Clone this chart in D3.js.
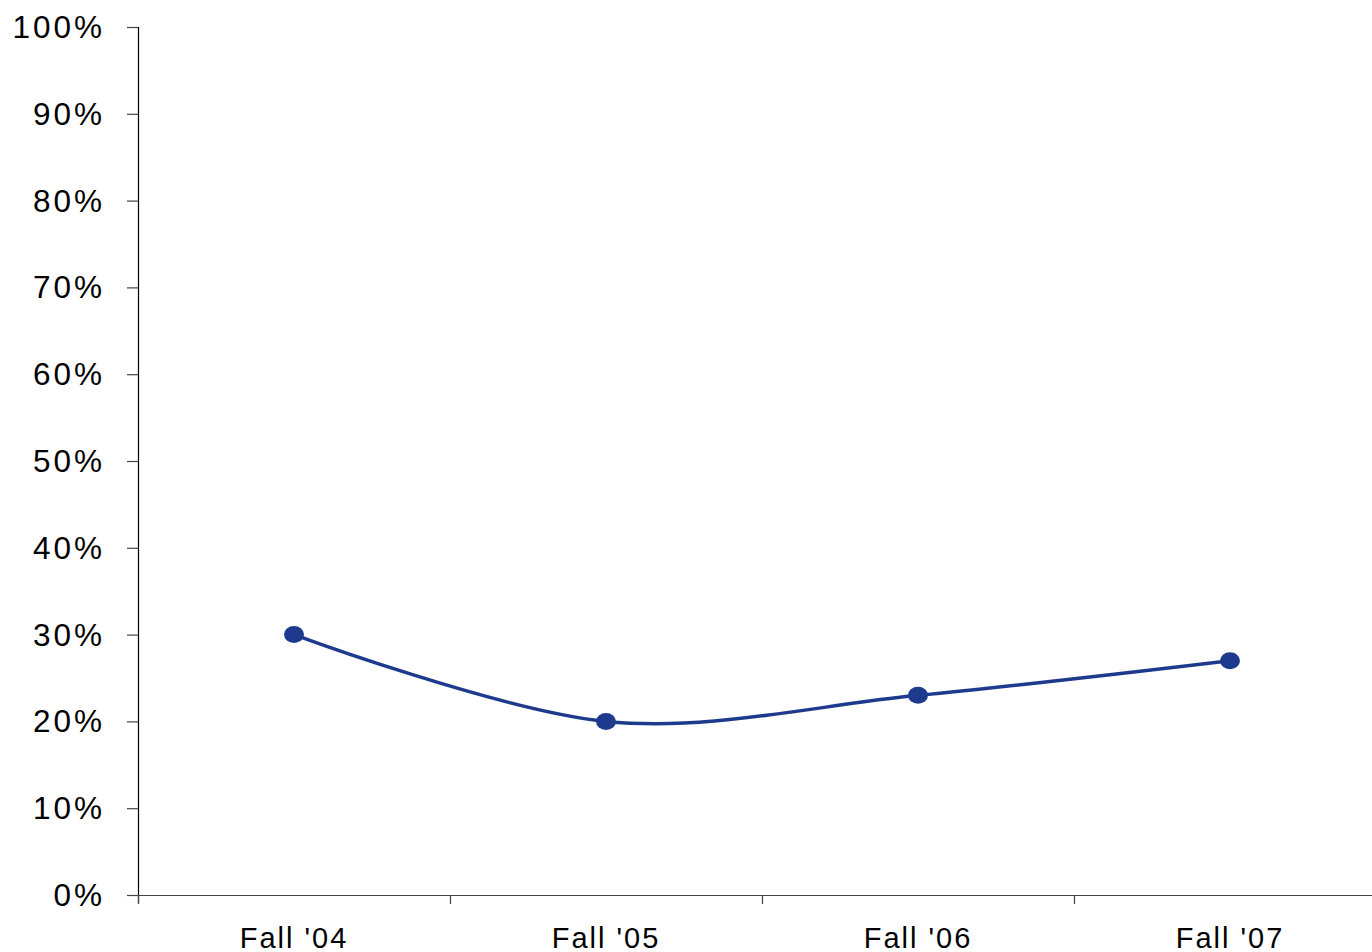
<!DOCTYPE html>
<html><head><meta charset="utf-8">
<script src="https://cdn.jsdelivr.net/npm/d3@7"></script>
<style>body{margin:0;background:#fff}svg{display:block}</style>
</head><body>
<svg id="c" width="1372" height="952"></svg>
<script>
const categories = ["Fall '04", "Fall '05", "Fall '06", "Fall '07"];
const values = [0.30, 0.20, 0.23, 0.27];
const yTicks = [0, 0.1, 0.2, 0.3, 0.4, 0.5, 0.6, 0.7, 0.8, 0.9, 1.0];

const svg = d3.select("#c");
const x = d3.scaleBand().domain(categories).range([138, 1386]).padding(0);
const y = d3.scaleLinear().domain([0, 1]).range([895, 27]);
const font = "'Liberation Sans', Arial, sans-serif";

// y axis
const ya = svg.append("g").attr("transform", "translate(138,0)")
  .call(d3.axisLeft(y).tickValues(yTicks).tickSize(11).tickPadding(22)
    .tickFormat(d => Math.round(d * 100) + "%"));
ya.select(".domain").attr("stroke", "#000").attr("stroke-width", 1.2).attr("d", "M0.5,27V903");
ya.selectAll(".tick line").attr("stroke", "#444").attr("stroke-width", 1.2);
ya.selectAll(".tick text").attr("font-family", font).attr("font-size", 31.5)
  .attr("fill", "#000").attr("letter-spacing", 3).attr("dy", "0.33em");

// x axis
const xa = svg.append("g").attr("transform", "translate(0,895)")
  .call(d3.axisBottom(x).tickSize(0).tickPadding(32));
xa.select(".domain").attr("stroke", "#444").attr("stroke-width", 1.2).attr("d", "M127,0.5H1372");
xa.selectAll(".tick text").attr("font-family", font).attr("font-size", 29)
  .attr("fill", "#000").attr("letter-spacing", 2);
// boundary ticks between categories
const bounds = categories.map(c => x(c)).concat([x(categories[categories.length-1]) + x.bandwidth()]);
xa.selectAll("line.b").data(bounds).enter().append("line").attr("class", "b")
  .attr("x1", d => Math.round(d) + 0.5).attr("x2", d => Math.round(d) + 0.5)
  .attr("y1", 0).attr("y2", 9).attr("stroke", "#444").attr("stroke-width", 1.2);

// line
const cx = d => x(d) + x.bandwidth() / 2;
const line = d3.line().x((d, i) => cx(categories[i])).y(d => y(d)).curve(d3.curveCatmullRom.alpha(0));
svg.append("path").datum(values).attr("d", line).attr("fill", "none")
  .attr("stroke", "#1e3a8c").attr("stroke-width", 3.5);
svg.selectAll("ellipse.m").data(values).enter().append("ellipse").attr("class", "m")
  .attr("cx", (d, i) => cx(categories[i])).attr("cy", d => y(d))
  .attr("rx", 10).attr("ry", 8.5).attr("fill", "#1e3a8c");
</script>
</body></html>
